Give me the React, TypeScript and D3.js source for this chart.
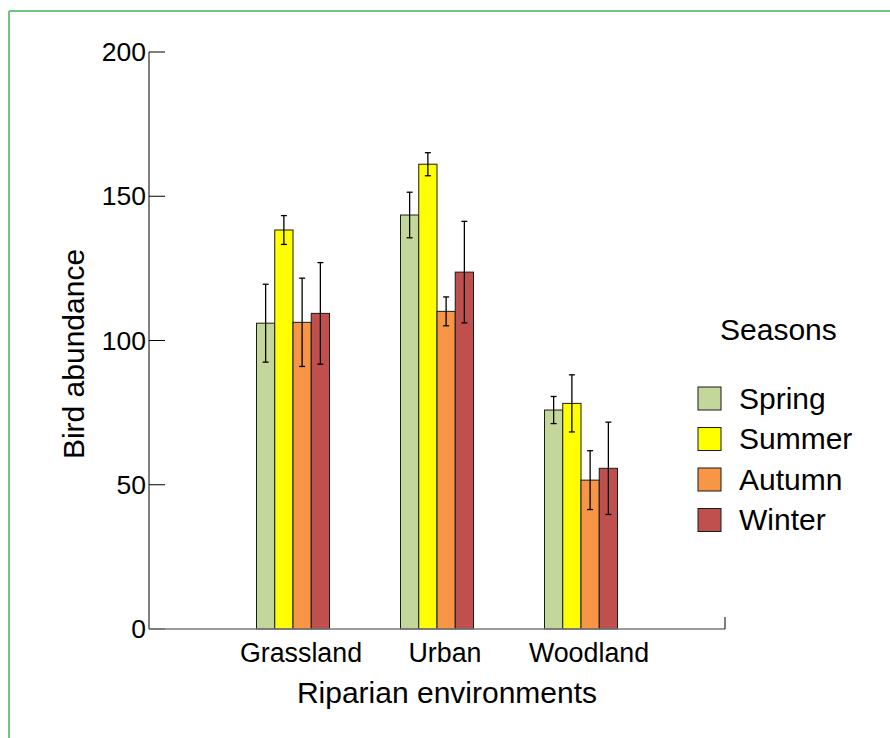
import * as d3 from "d3"

// data
const environments = ["Grassland", "Urban", "Woodland"]
const seasons = ["Spring", "Summer", "Autumn", "Winter"]
const seasonColors = ["#c4d79b", "#ffff00", "#f79646", "#c0504d"]

// mean abundance per environment, one array per season
const springMean = [106, 143.5, 75.9]
const summerMean = [138.3, 161.1, 78.2]
const autumnMean = [106.3, 110.1, 51.6]
const winterMean = [109.4, 123.7, 55.7]

// error (half-length of the bars)
const springErr = [13.5, 7.9, 4.7]
const summerErr = [5, 4, 9.9]
const autumnErr = [15.3, 5, 10.2]
const winterErr = [17.6, 17.6, 16]

const yTicks = [0, 50, 100, 150, 200]

const means = [springMean, summerMean, autumnMean, winterMean]
const errs = [springErr, summerErr, autumnErr, winterErr]

const W = 890
const H = 738
const margin = { top: 52, right: 165, bottom: 109, left: 149 }

export default function App() {
  const x0 = d3
    .scaleBand()
    .domain(environments)
    .range([margin.left, W - margin.right])
    .paddingInner(0)
    .paddingOuter(0.5)

  const groupWidth = 73
  const x1 = d3.scaleBand().domain(seasons).range([0, groupWidth])

  const y = d3
    .scaleLinear()
    .domain([0, 200])
    .range([H - margin.bottom, margin.top])

  const font = "'Liberation Sans', Arial, Helvetica, sans-serif"
  const xLeft = x0.range()[0]
  const xRight = x0.range()[1]
  const yBase = y(0)

  return (
    <svg
      width={W}
      height={H}
      style={{ position: "absolute", left: 0, top: 0 }}
      fontFamily={font}
    >
      <rect x={0} y={0} width={W} height={H} fill="white" />
      {/* green frame, runs off right and bottom */}
      <line x1={9} x2={W} y1={11} y2={11} stroke="#6cc77f" strokeWidth={2} />
      <line x1={9} x2={9} y1={11} y2={H} stroke="#6cc77f" strokeWidth={2} />

      {/* bars */}
      {environments.map((env, i) => {
        const gx = (x0(env) ?? 0) + x0.bandwidth() / 2 - groupWidth / 2
        return (
          <g key={env} transform={`translate(${gx},0)`}>
            {seasons.map((s, j) => (
              <rect
                key={s}
                x={x1(s)}
                y={y(means[j][i])}
                width={x1.bandwidth()}
                height={yBase - y(means[j][i])}
                fill={seasonColors[j]}
                stroke="#1a1a1a"
                strokeWidth={1}
              />
            ))}
            {seasons.map((s, j) => {
              const cx = (x1(s) ?? 0) + x1.bandwidth() / 2
              const top = y(means[j][i] + errs[j][i])
              const bot = y(means[j][i] - errs[j][i])
              return (
                <g key={s} stroke="black" strokeWidth={1.3}>
                  <line x1={cx} x2={cx} y1={top} y2={bot} />
                  <line x1={cx - 3} x2={cx + 3} y1={top} y2={top} />
                  <line x1={cx - 3} x2={cx + 3} y1={bot} y2={bot} />
                </g>
              )
            })}
          </g>
        )
      })}

      {/* y axis */}
      <line x1={xLeft} x2={xLeft} y1={y(200)} y2={yBase} stroke="black" strokeWidth={1} />
      {yTicks.map((t) => (
        <g key={t}>
          <line x1={xLeft} x2={xLeft + 16} y1={y(t)} y2={y(t)} stroke="black" strokeWidth={1} />
          <text
            x={xLeft - 3}
            y={y(t)}
            textAnchor="end"
            dominantBaseline="central"
            fontSize={26.5}
          >
            {t}
          </text>
        </g>
      ))}

      {/* x axis */}
      <line x1={xLeft} x2={xRight} y1={yBase} y2={yBase} stroke="#7a7a7a" strokeWidth={1.5} />
      <line x1={xRight} x2={xRight} y1={yBase - 12} y2={yBase} stroke="black" strokeWidth={1} />
      {environments.map((env) => (
        <text
          key={env}
          x={(x0(env) ?? 0) + x0.bandwidth() / 2 + 8}
          y={yBase + 33}
          textAnchor="middle"
          fontSize={26.8}
        >
          {env}
        </text>
      ))}

      {/* axis titles */}
      <text
        x={(xLeft + xRight) / 2 + 10}
        y={yBase + 74}
        textAnchor="middle"
        fontSize={30}
      >
        Riparian environments
      </text>
      <text
        transform={`translate(84,${354}) rotate(-90)`}
        textAnchor="middle"
        fontSize={30}
      >
        Bird abundance
      </text>

      {/* legend */}
      <text x={720} y={340} fontSize={30}>
        Seasons
      </text>
      {seasons.map((s, j) => (
        <g key={s} transform={`translate(698,${387 + j * 40.5})`}>
          <rect width={23} height={23} fill={seasonColors[j]} stroke="#1a1a1a" strokeWidth={1} />
          <text x={41} y={11} dominantBaseline="central" fontSize={30}>
            {s}
          </text>
        </g>
      ))}
    </svg>
  )
}
